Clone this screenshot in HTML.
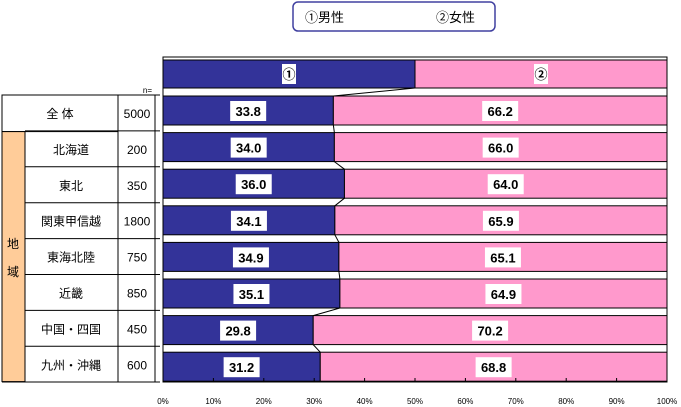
<!DOCTYPE html>
<html><head><meta charset="utf-8"><style>
body{margin:0;background:#fff;width:681px;height:407px;overflow:hidden;font-family:"Liberation Sans","Noto Sans CJK JP",sans-serif}
svg{position:absolute;left:0;top:0}
</style></head><body>
<svg width="681" height="407">
<g id="root"></g>
</svg>
<script>
const categories=["全 体","北海道","東北","関東甲信越","東海北陸","近畿","中国・四国","九州・沖縄"];
const nValues=[5000,200,350,1800,750,850,450,600];
const maleValues=[33.8,34.0,36.0,34.1,34.9,35.1,29.8,31.2];
const femaleValues=[66.2,66.0,64.0,65.9,65.1,64.9,70.2,68.8];
const tickLabels=["0%","10%","20%","30%","40%","50%","60%","70%","80%","90%","100%"];
const NS="http://www.w3.org/2000/svg";
const root=document.getElementById('root');
function mk(t,a,txt){const e=document.createElementNS(NS,t);for(const k in a)e.setAttribute(k,a[k]);if(txt!=null)e.textContent=txt;root.appendChild(e);return e;}
const X0=163,X1=667;
const xs=v=>X0+(X1-X0)*v/100;
const rowTop=i=>96+i*36.6, rowH=29;
// legend
let e=mk('rect',{x:293,y:2,width:202,height:29,rx:5,fill:'#fff',stroke:'#4040a0','stroke-width':1.5});

e=mk('text',{x:305,y:22,'font-size':13},'①男性');
e=mk('text',{x:436,y:22,'font-size':13},'②女性');
// plot frame
e=mk('rect',{x:X0,y:57,width:X1-X0,height:325,fill:'#fff',stroke:'#000','stroke-width':1});

// header bar
e=mk('rect',{x:X0,y:60,width:xs(50)-X0,height:28,fill:'#333399',stroke:'#000'});
e=mk('rect',{x:xs(50),y:60,width:X1-xs(50),height:28,fill:'#ff99cc',stroke:'#000'});
[[25,'①'],[75,'②']].forEach(([p,s])=>{mk('rect',{x:xs(p)-7,y:64,width:14,height:20,fill:'#fff'});e=mk('text',{x:xs(p),y:79,'font-size':13,'font-weight':'bold','text-anchor':'middle'},s);});
mk('line',{x1:xs(50),y1:88,x2:xs(maleValues[0]),y2:96,stroke:'#000'});
mk('text',{x:152,y:93,'font-size':8,'text-anchor':'end'},'n=');
// table
e=mk('rect',{x:2,y:95,width:116,height:36.6,fill:'#fff',stroke:'#000'});
e=mk('rect',{x:2,y:131.6,width:23,height:250,fill:'#ffcc99',stroke:'#000'});
mk('text',{x:13,y:248,'font-size':12,'text-anchor':'middle'},'地');
mk('text',{x:13,y:276,'font-size':12,'text-anchor':'middle'},'域');
mk('line',{x1:118,y1:95,x2:118,y2:382,stroke:'#000'});
mk('line',{x1:155,y1:95,x2:155,y2:382,stroke:'#000'});
categories.forEach((c,i)=>{
 const y=95+i*35.9;
 mk('line',{x1:i==0?2:25,y1:y,x2:160,y2:y,stroke:'#000'});
 e=mk('text',{x:i==0?60:71,y:y+23,'font-size':12,'text-anchor':'middle'},c);
 e=mk('text',{x:137,y:y+23,'font-size':12,'text-anchor':'middle'},nValues[i]);
});
mk('line',{x1:2,y1:382,x2:160,y2:382,stroke:'#000'});
// bars
maleValues.forEach((m,i)=>{
 const y=rowTop(i),f=femaleValues[i];
 e=mk('rect',{x:X0,y:y,width:xs(m)-X0,height:rowH,fill:'#333399',stroke:'#000'});
 e=mk('rect',{x:xs(m),y:y,width:xs(m+f)-xs(m),height:rowH,fill:'#ff99cc',stroke:'#000'});
 [[m/2,m],[m+f/2,f]].forEach(([p,v])=>{mk('rect',{x:xs(p)-18,y:y+5,width:36,height:20,fill:'#fff'});e=mk('text',{x:xs(p),y:y+20,'font-size':13,'font-weight':'bold','text-anchor':'middle'},v.toFixed(1));});
 if(i<maleValues.length-1) mk('line',{x1:xs(m),y1:y+rowH,x2:xs(maleValues[i+1]),y2:rowTop(i+1),stroke:'#000'});
});
// axis
tickLabels.forEach((t,i)=>{
 const x=xs(i*10);
 mk('line',{x1:x,y1:378,x2:x,y2:382,stroke:'#000'});
 e=mk('text',{x:x,y:404,'font-size':8,'text-anchor':'middle'},t);
});
</script>
</body></html>
